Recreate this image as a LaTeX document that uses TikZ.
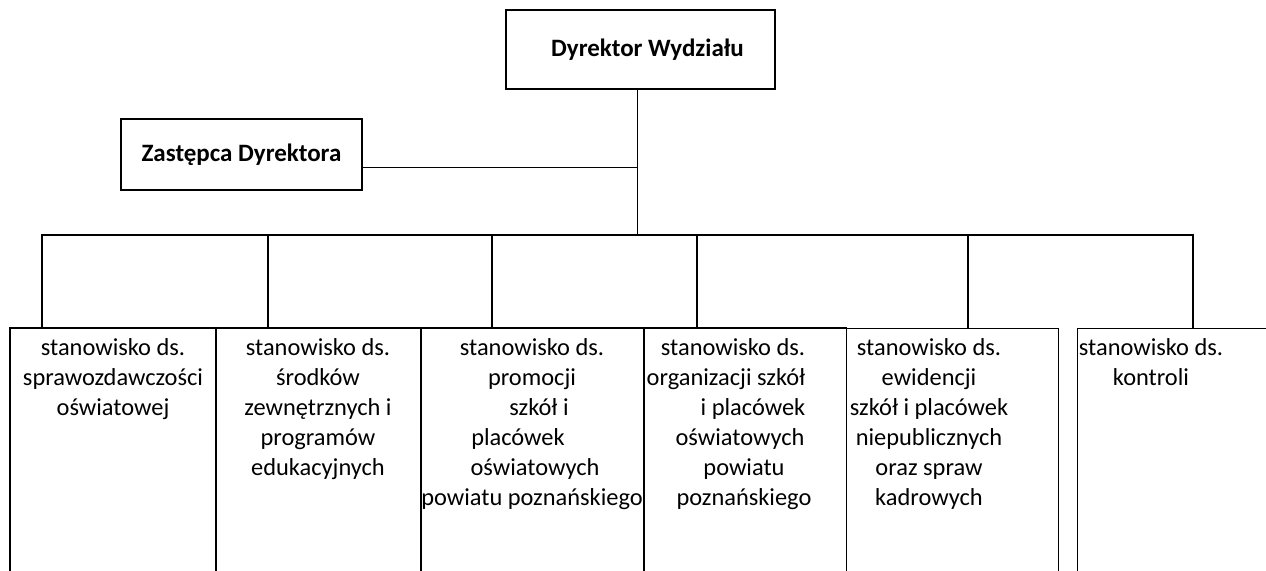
\documentclass[tikz,border=0pt]{standalone}
\usepackage{fontspec}
\setmainfont{Carlito}

\begin{document}
\begin{tikzpicture}[x=0.5pt,y=-0.5pt,
    head/.style={draw,line width=0.65pt,inner sep=0pt,font=\fontsize{12.5}{14}\selectfont\bfseries},
    post/.style={draw,line width=0.7pt,inner sep=0pt,minimum height=156pt},
    postthin/.style={post,line width=0.5pt},
    posttext/.style={anchor=north,inner sep=0pt,align=center,font=\fontsize{12.2}{15}\selectfont},
    link/.style={line width=0.5pt},
    bar/.style={line width=1pt,line join=miter}]
  \useasboundingbox (0,0) rectangle (1266,570);
  \clip (0,0) rectangle (1266,570);

  % kierownictwo
  \node[head,minimum width=134.5pt,minimum height=39.5pt] (dyr) at (640.5,49.5) {\hspace*{7pt}Dyrektor Wydziału};
  \node[head,minimum width=120.5pt,minimum height=35.5pt] (zast) at (241.5,154.5) {\raisebox{-3pt}{Zastępca Dyrektora}};

  % stanowiska
  \node[post,minimum width=103pt] (p1) at (113,484) {};
  \node[post,minimum width=102.5pt] (p2) at (318.5,484) {};
  \node[post,minimum width=111.5pt] (p3) at (532.5,484) {};
  \node[post,minimum width=101.25pt] (p4) at (745.25,484) {};
  \node[postthin,minimum width=105.75pt] (p5) at (952.25,484) {};
  \node[postthin,minimum width=106.5pt] (p6) at (1183.5,484) {};

  \node[posttext] (t1) at (113,338) {stanowisko ds.\\sprawozdawczości\\oświatowej};
  \node[posttext] (t2) at (318,338) {stanowisko ds.\\środków\\zewnętrznych i\\programów\\edukacyjnych};
  \node[posttext] (t3) at (532,338) {stanowisko ds.\\promocji\\\hspace*{7pt}szkół i\\placówek\hspace*{14pt}\null\\\hspace*{3pt}oświatowych\\powiatu poznańskiego};
  \node[posttext] (t4) at (744,338) {stanowisko ds.\hspace*{11pt}\null\\organizacji szkół\hspace*{18pt}\null\\\hspace*{9pt}i placówek\\oświatowych\hspace*{4pt}\null\\powiatu\\poznańskiego};
  \node[posttext] (t5) at (929,338) {stanowisko ds.\\ewidencji\\szkół i placówek\\niepublicznych\\oraz spraw\\kadrowych};
  \node[posttext] (t6) at (1151,338) {stanowisko ds.\\kontroli};

  % linie
  \coordinate (hub) at (637,235);
  \coordinate (b1) at (42,235);
  \coordinate (b2) at (268,235);
  \coordinate (b3) at (492,235);
  \coordinate (b4) at (697,235);
  \coordinate (b5) at (968,235);
  \coordinate (b6) at (1193,235);

  \draw[link] (dyr.south -| hub) -- (hub);
  \draw[link] ([yshift=-6.5pt]zast.east) -- ([yshift=-6.5pt]zast.east -| hub);
  \draw[bar] (b1 |- p1.north) -- (b1) -- (b6) -- (b6 |- p6.north);
  \draw[line width=0.75pt] (b2) -- (b2 |- p2.north);
  \draw[line width=0.75pt] (b3) -- (b3 |- p3.north);
  \draw[line width=0.75pt] (b4) -- (b4 |- p4.north);
  \draw[line width=0.75pt] (b5) -- (b5 |- p5.north);
\end{tikzpicture}
\end{document}
